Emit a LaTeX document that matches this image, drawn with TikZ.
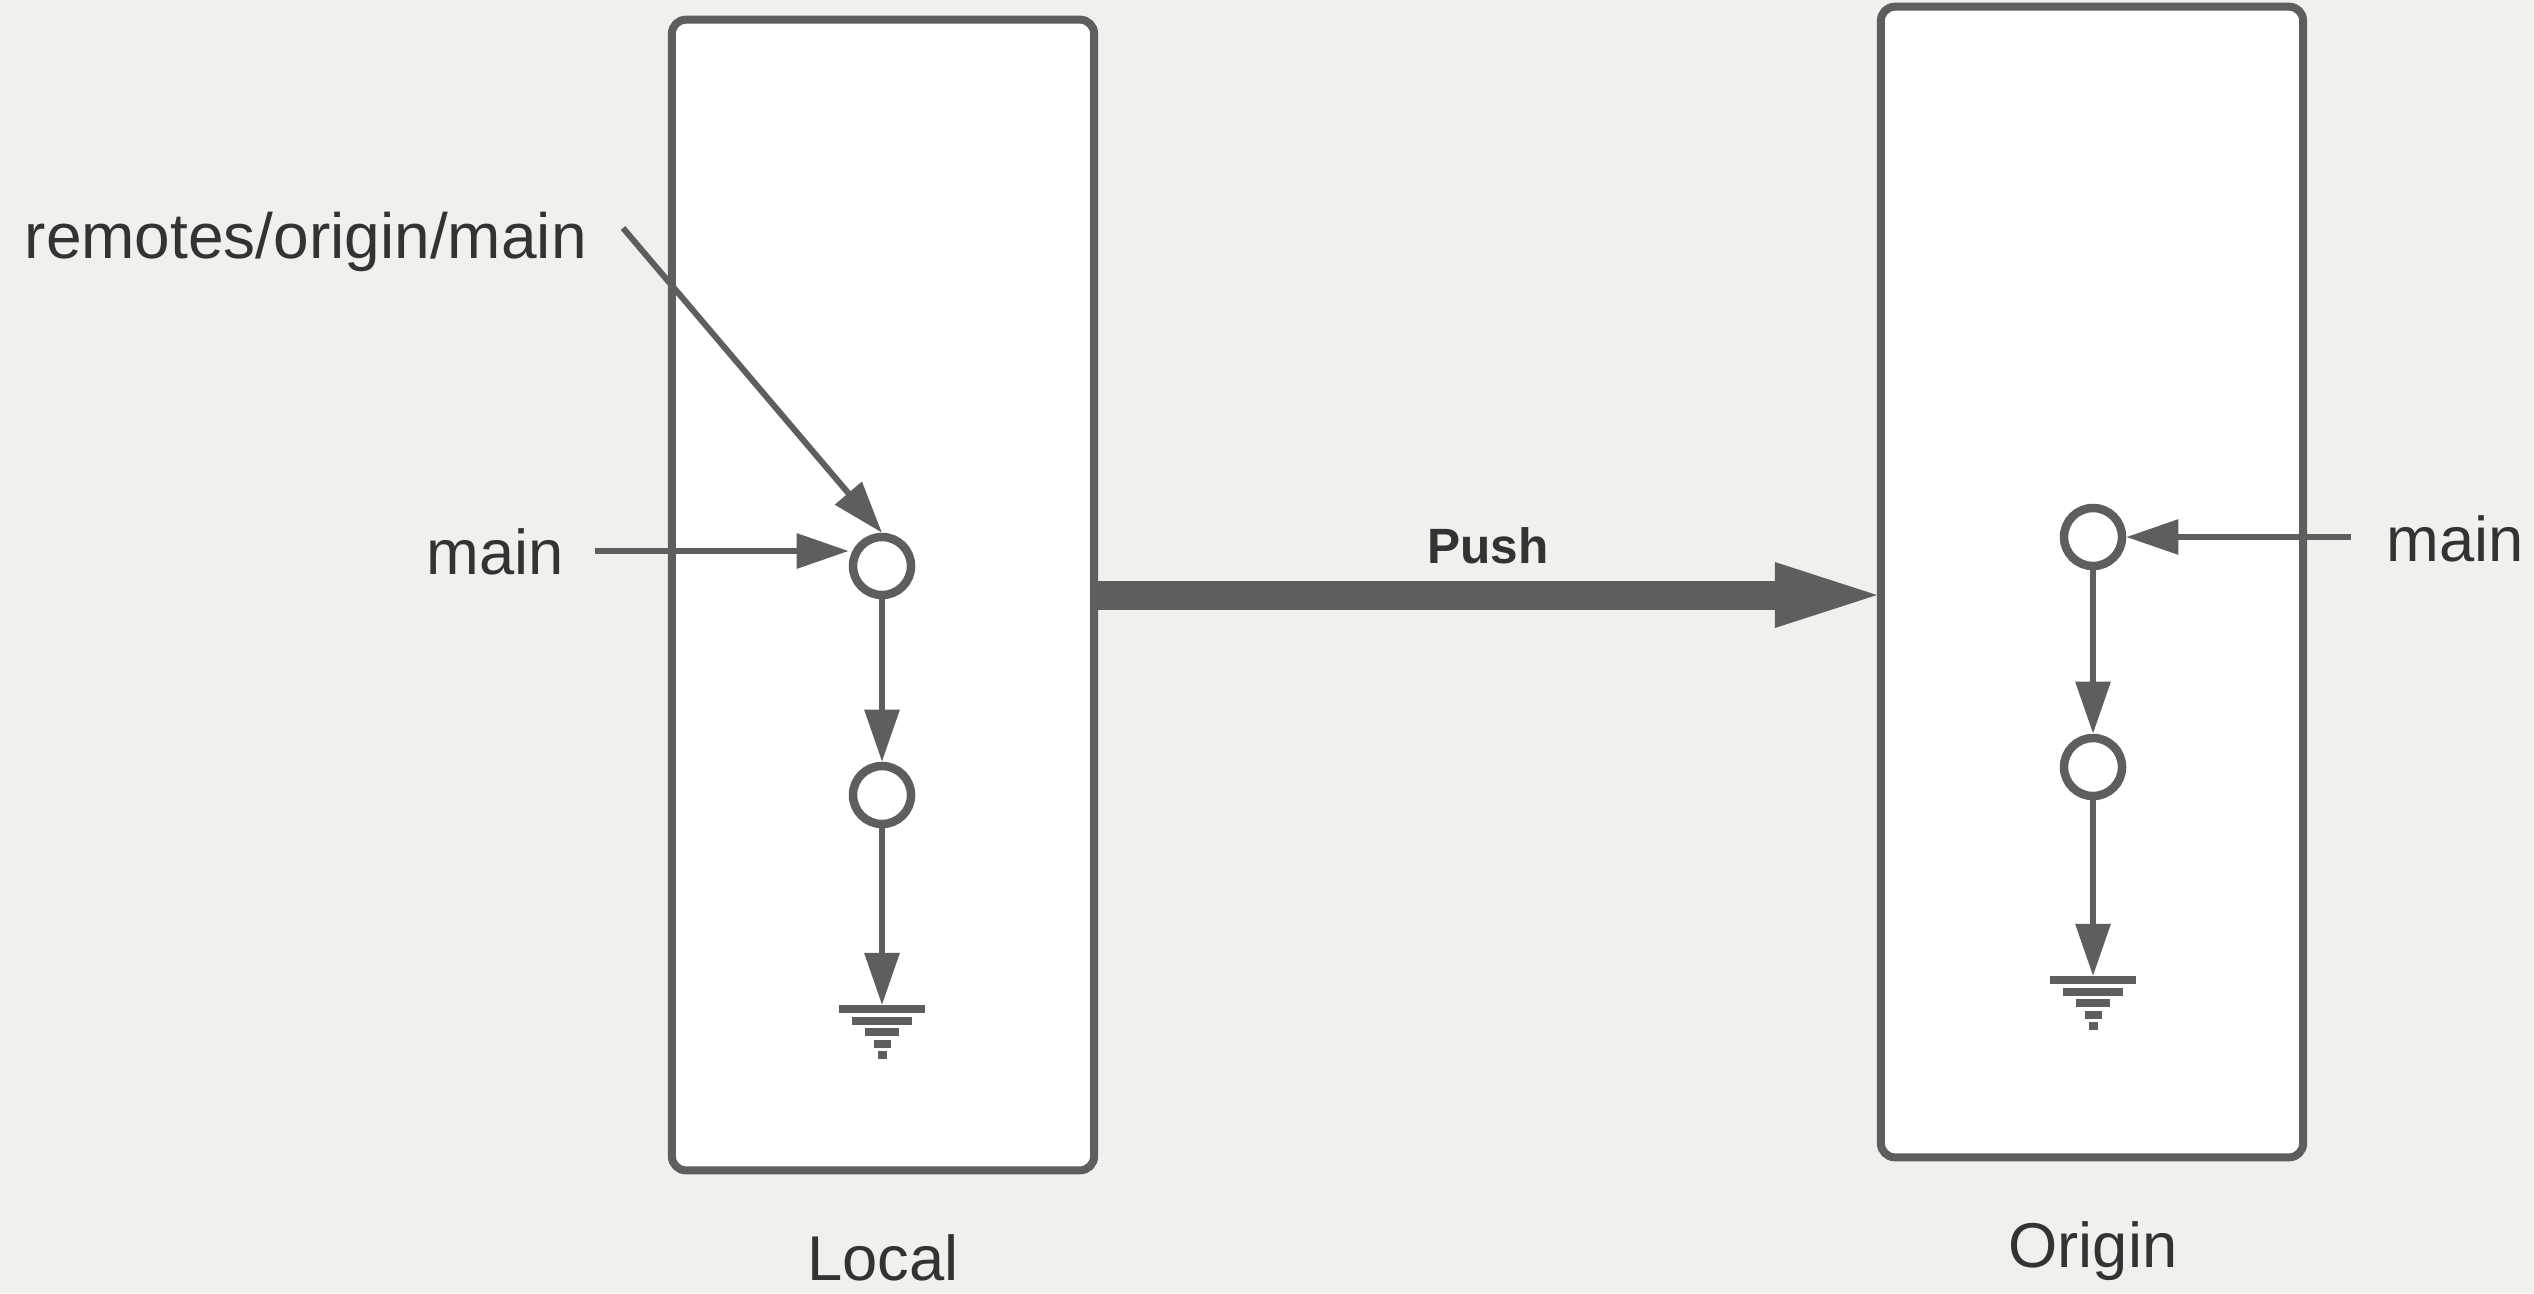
\documentclass[tikz,border=0pt]{standalone}
\usepackage{fontspec}
\setmainfont{Liberation Sans}
\usetikzlibrary{arrows.meta}
\definecolor{linegray}{HTML}{5E5E5E}
\definecolor{textgray}{HTML}{333333}
\definecolor{bggray}{HTML}{F0F0EC}
\tikzset{
  repo/.style={draw=linegray, fill=white, line width=0.08cm, rounded corners=0.14cm,
    minimum width=4.22cm, minimum height=11.5cm, inner sep=0},
  commit/.style={circle, draw=linegray, fill=white, line width=0.085cm,
    minimum size=0.58cm, inner sep=0},
  ptr/.style={draw=linegray, line width=0.06cm, -{Triangle[length=0.52cm,width=0.34cm]}},
  lbl/.style={text=textgray, inner sep=0, font=\fontsize{18pt}{20pt}\selectfont},
}
\begin{document}
\begin{tikzpicture}[x=0.01cm, y=-0.01cm]
%Coordinates are in pixels of the picture, y going down.
% Two repositories side by side, each holding a short
% chain of commits that ends in a "ground" (no parent).
\fill[bggray] (0,0) rectangle (2534,1293);
\useasboundingbox (0,0) rectangle (2534,1293);

\node[repo] (local) at (883,595) {};
\node[repo] (origin) at (2092,582) {};
\node[lbl, anchor=base] (locallbl) at (883,1280) {Local};
\node[lbl, anchor=base] (originlbl) at (2093,1267) {Origin};

%commits of the local repository
\node[commit] (lc1) at (882,566) {};
\node[commit] (lc2) at (882,795) {};
\coordinate (lg) at (882,1005);
%commits of origin
\node[commit] (oc1) at (2093,537) {};
\node[commit] (oc2) at (2093,767) {};
\coordinate (og) at (2093,976);

\foreach \gx/\gy in {882/1005, 2093/976}
  \foreach \i/\w in {0/86, 1/60, 2/34, 3/17, 4/9}
    \fill[linegray] (\gx-\w/2, \gy+11.5*\i) rectangle ++(\w,8);

\draw[ptr] (lc1) -- (lc2);
\draw[ptr] (lc2) -- (lg);
\draw[ptr] (oc1) -- (oc2);
\draw[ptr] (oc2) -- (og);

%branch labels
\node[lbl, anchor=base west, font=\fontsize{18.2pt}{20pt}\selectfont]
  (remote) at (24,258) {remotes/origin/main};
\node[lbl, anchor=base] (mainL) at (495,574) {main};
\node[lbl, anchor=base] (mainO) at (2455,561) {main};
\coordinate (rtail) at (623,228);
\coordinate (mtail) at (595,551);
\coordinate (otail) at (2351,537);
\draw[ptr] (rtail) -- (lc1.north);
\draw[ptr] (mtail) -- (mtail -| lc1.west);
\draw[ptr] (otail) -- (oc1.east);

%the push
\node[text=textgray, font=\fontsize{14.1pt}{16pt}\selectfont\bfseries, anchor=base, inner sep=0]
  (push) at (1488,563) {Push};
\draw[draw=linegray, line width=0.29cm,
  -{Triangle[length=1.02cm,width=0.66cm,line width=0pt]}] (local.east) -- (local.east -| origin.west);
\end{tikzpicture}
\end{document}
